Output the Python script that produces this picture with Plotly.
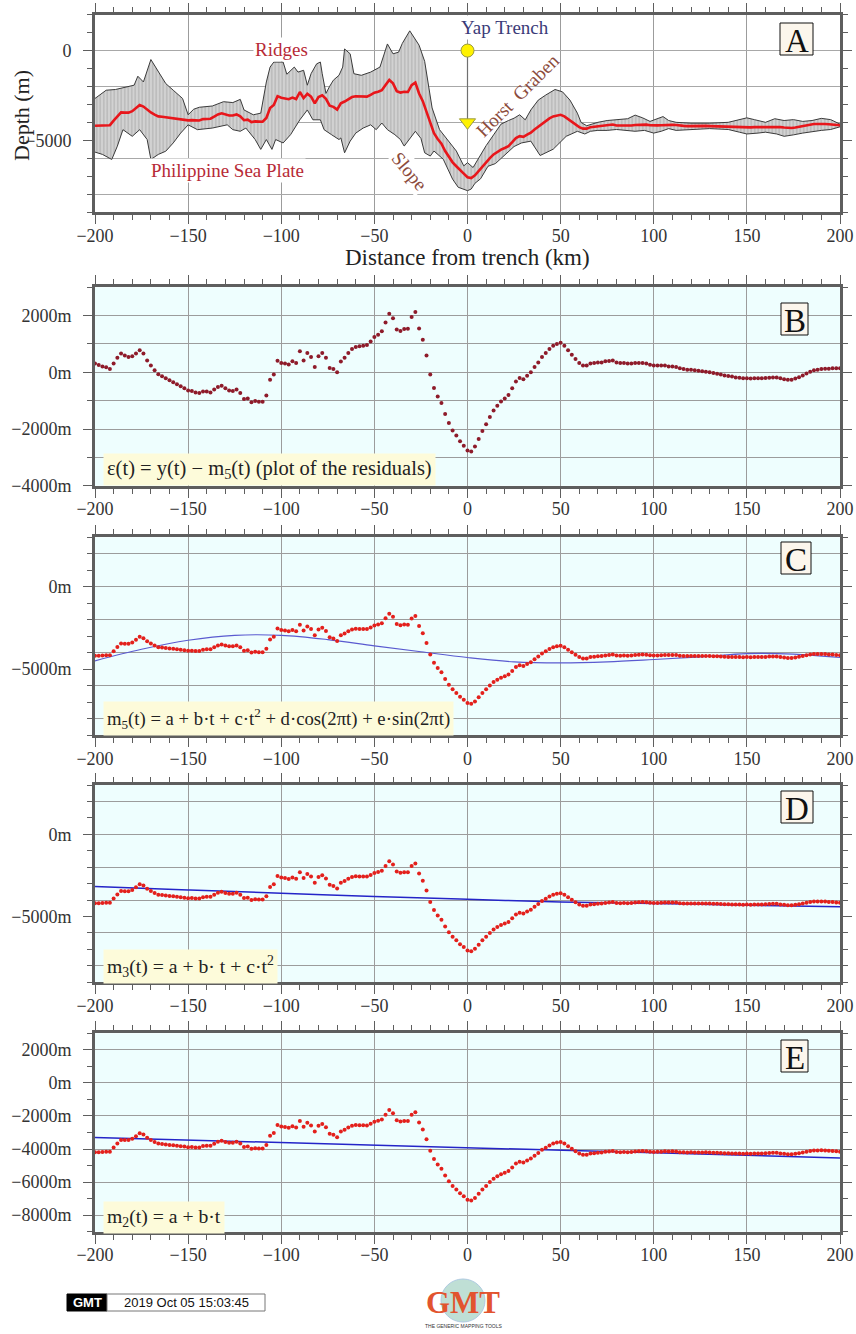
import plotly.graph_objects as go

# ---------------- data ----------------
distance_km = list(range(-200, 201, 2))

# observed depth profile y(t) (m), every 2 km from -200 to 200
depth_m = [
    -4190, -4190, -4180, -4160, -4160, -3910, -3660, -3450, -3460, -3460,   # -200..-182
    -3380, -3220, -3040, -3120, -3310, -3450, -3570, -3670, -3690, -3720,   # -180..-162
    -3750, -3770, -3800, -3830, -3850, -3890, -3880, -3900, -3900, -3820,   # -160..-142
    -3800, -3800, -3680, -3560, -3500, -3570, -3620, -3620, -3560, -3670,   # -140..-122
    -3880, -3850, -3990, -3950, -3970, -3970, -3760, -3200, -3030, -2540,   # -120..-102
    -2630, -2660, -2710, -2620, -2700, -2310, -2650, -2410, -2570, -2940,   # -100..-82
    -2590, -2490, -2690, -3070, -3140, -3290, -2940, -2840, -2700, -2590,   # -80..-62
    -2550, -2560, -2560, -2570, -2470, -2350, -2290, -2210, -1920, -1640,   # -60..-42
    -1830, -2260, -2340, -2300, -2310, -1930, -1780, -2390, -2820, -3410,   # -40..-22
    -4110, -4610, -4930, -5190, -5600, -5950, -6230, -6450, -6680, -6860,   # -20..-2
    -7060, -7110, -6960, -6710, -6450, -6230, -6000, -5790, -5640, -5520,   # 0..18
    -5430, -5330, -5110, -4880, -4770, -4810, -4690, -4580, -4400, -4240,   # 20..38
    -4050, -3920, -3780, -3670, -3610, -3580, -3670, -3830, -3980, -4130,   # 40..58
    -4270, -4350, -4350, -4270, -4250, -4220, -4210, -4170, -4150, -4120,   # 60..78
    -4180, -4190, -4180, -4190, -4180, -4150, -4130, -4120, -4130, -4160,   # 80..98
    -4180, -4170, -4160, -4140, -4150, -4140, -4150, -4190, -4200, -4210,   # 100..118
    -4200, -4210, -4210, -4210, -4200, -4210, -4220, -4220, -4240, -4250,   # 120..138
    -4260, -4270, -4270, -4270, -4280, -4270, -4280, -4270, -4270, -4270,   # 140..158
    -4260, -4240, -4230, -4230, -4270, -4290, -4320, -4320, -4290, -4250,   # 160..178
    -4210, -4160, -4120, -4090, -4090, -4080, -4090, -4110, -4120, -4140,   # 180..198
    -4160,                                                                  # 200
]

# residuals eps(t) = y(t) - m5(t) (m)
residual_m = [
    310, 260, 210, 180, 120, 310, 510, 660, 590, 540,                       # -200..-182
    570, 660, 780, 660, 420, 240, 70, -70, -140, -210,                      # -180..-162
    -280, -350, -420, -490, -560, -640, -660, -710, -730, -680,             # -160..-142
    -680, -710, -610, -520, -470, -560, -640, -660, -610, -730,             # -140..-122
    -940, -920, -1060, -1010, -1040, -1040, -820, -260, -80, 410,           # -120..-102
    330, 310, 280, 390, 330, 740, 420, 680, 540, 190,                       # -100..-82
    570, 680, 510, 150, 120, 0, 380, 510, 680, 820,                         # -80..-62
    890, 920, 940, 960, 1090, 1250, 1330, 1450, 1760, 2070,                 # -60..-42
    1910, 1510, 1460, 1530, 1540, 1950, 2130, 1550, 1150, 590,              # -40..-22
    -80, -550, -850, -1080, -1470, -1790, -2050, -2230, -2430, -2590,       # -20..-2
    -2760, -2790, -2620, -2350, -2070, -1830, -1580, -1350, -1180, -1030,   # 0..18
    -920, -800, -560, -320, -200, -240, -120, 0, 190, 350,                  # 20..38
    540, 680, 820, 940, 1000, 1040, 940, 780, 620, 470,                     # 40..58
    330, 240, 240, 310, 330, 350, 350, 390, 400, 420,                       # 60..78
    350, 330, 330, 310, 310, 330, 330, 330, 310, 270,                       # 80..98
    240, 240, 240, 240, 210, 210, 190, 140, 120, 90,                        # 100..118
    90, 70, 60, 40, 20, 0, -20, -50, -80, -110,                             # 120..138
    -130, -150, -180, -190, -210, -210, -220, -210, -210, -210,             # 140..158
    -200, -190, -180, -180, -210, -240, -260, -260, -220, -170,             # 160..178
    -110, -40, 20, 70, 90, 120, 130, 130, 140, 140,                         # 180..198
    140,                                                                    # 200
]

# fitted models (read at control points)
m5_km = [-200, -175, -150, -125, -100, -75, -50, -25, 0, 25, 50, 75, 100, 125, 150, 175, 200]
m5_m = [-4500, -3800, -3250, -2950, -2950, -3210, -3590, -3950, -4300, -4560, -4620,
        -4560, -4420, -4260, -4060, -4090, -4300]
m3_km = [-200, -150, -100, -50, 0, 50, 100, 150, 200]
m3_m = [-3180, -3380, -3580, -3780, -3950, -4110, -4210, -4310, -4410]
m2_km = [-200, 200]
m2_m = [-3300, -4540]

# envelope of the stacked profiles (panel A)
upper_km = [-200, -194, -189, -184, -179, -177, -174, -170, -166, -162, -158, -153, -150, -147, -144,
            -137, -131, -126, -122, -120, -115, -111, -108, -106, -104, -99, -97, -93, -91, -88,
            -86, -84, -81, -79, -78, -76, -74, -72, -69, -67, -66, -63, -61, -57, -52,
            -47, -43, -40, -37, -35, -31, -26, -23, -21, -19, -15, -11, -6, -2, 0,
            3, 10, 14, 18, 22, 25, 28, 31, 34, 38, 42, 47, 51, 55, 59,
            61, 64, 70, 75, 80, 86, 90, 94, 98, 102, 105, 108, 112, 120, 130,
            140, 146, 150, 154, 160, 165, 170, 175, 180, 185, 190, 195, 200]
upper_m = [-2670, -2210, -2170, -2060, -1930, -1430, -1750, -500, -1200, -1840, -2210, -2670, -3580, -3270, -3160,
           -3090, -2850, -2900, -2720, -3310, -3580, -3490, -1750, -920, -640, -640, -1320, -920, -1200, -1100,
           -1930, -1290, -740, -640, -1290, -2390, -1990, -1650, -1380, -920, 90, -180, -1290, -1380, -1200,
           -920, 370, -180, -90, 400, 1100, 300, -600, -1840, -3200, -4410, -4960, -5600, -6430, -6250,
           -6520, -5300, -4700, -4100, -3900, -3770, -3580, -3860, -3310, -2760, -2480, -2170, -2300, -2760, -3490,
           -4010, -4190, -4000, -3900, -3850, -3800, -3600, -3750, -3950, -3800, -3680, -3900, -4000, -4050, -4050,
           -4000, -3850, -3750, -3850, -4000, -3800, -3900, -3850, -3950, -3900, -3780, -3850, -4100]
lower_km = [-200, -196, -191, -188, -185, -180, -176, -172, -170, -166, -162, -158, -154, -150, -145,
            -137, -129, -126, -122, -119, -114, -111, -108, -105, -103, -99, -95, -90, -86, -83,
            -79, -77, -73, -69, -68, -66, -63, -60, -56, -52, -49, -46, -43, -39, -36,
            -34, -31, -28, -25, -23, -20, -18, -13, -8, -5, 0, 2, 4, 7, 11,
            15, 19, 25, 29, 34, 39, 46, 53, 59, 63, 66, 70, 75, 80, 86,
            90, 95, 100, 104, 108, 112, 120, 130, 140, 146, 150, 156, 160, 166, 170,
            175, 180, 186, 190, 195, 200]
lower_m = [-5660, -5790, -6070, -5330, -4410, -4780, -4410, -4960, -6070, -5790, -5610, -5150, -4600, -4140, -4410,
           -4320, -4140, -4410, -4500, -4320, -4960, -5510, -4960, -5510, -4960, -5150, -4690, -3860, -3310, -3860,
           -3860, -4410, -4690, -4960, -4870, -5700, -5050, -4600, -4320, -4140, -4410, -4040, -4410, -4690, -4960,
           -5330, -4900, -4500, -4900, -5700, -5880, -5600, -6060, -7170, -7620, -7810, -7720, -7400, -7150, -6450,
           -6300, -5900, -5350, -5150, -5050, -5850, -5500, -4780, -4500, -4650, -4500, -4450, -4450, -4400, -4450,
           -4500, -4450, -4600, -4500, -4350, -4450, -4400, -4350, -4400, -4550, -4650, -4600, -4550, -4650, -4780,
           -4700, -4600, -4500, -4450, -4400, -4250]

trench_km = [0, 0]
trench_m = [0, -4000]

x_ticks_km = [-200, -150, -100, -50, 0, 50, 100, 150, 200]
depth_ticks_m = [0, -5000]
depth_ticks_text = ["0", "−5000"]
depth_ticks_text_m = ["0m", "−5000m"]
panel_letters = ["A", "B", "C", "D", "E"]
equations = [
    "ε(t) = y(t) − m<sub>5</sub>(t) (plot of the residuals)",
    "m<sub>5</sub>(t) = a + b·t + c·t<sup>2</sup> + d·cos(2πt) + e·sin(2πt)",
    "m<sub>3</sub>(t) = a + b· t + c·t<sup>2</sup>",
    "m<sub>2</sub>(t) = a + b·t",
]

# ---------------- styling ----------------
W, H = 856, 1334
L, R = 95, 840
FONT = "Liberation Serif"
FRAME = "#5E5E5E"
GRID = "#9C9C9C"
BG = "#EEFEFE"
LABEL = "#333333"
panel_px = [(14.7, 212.0), (287.3, 485.7), (537.3, 735.0), (785.0, 982.3), (1033.3, 1231.7)]


def ydom(top, bot):
    return [1 - bot / H, 1 - top / H]


fig = go.Figure()

# Panel A
fig.add_trace(go.Scatter(
    x=upper_km + lower_km[::-1], y=upper_m + lower_m[::-1], fill="toself",
    fillcolor="#D2D2D2", mode="lines", line=dict(color="#3A3A3A", width=1),
    fillpattern=dict(shape="|", fgcolor="#6E6E6E", bgcolor="#D2D2D2", size=3.5, solidity=0.22),
    xaxis="x", yaxis="y", hoverinfo="skip"))
fig.add_trace(go.Scatter(x=distance_km, y=depth_m, mode="lines",
                         line=dict(color="#E8161B", width=2.6), xaxis="x", yaxis="y"))
fig.add_trace(go.Scatter(x=trench_km, y=trench_m, mode="lines",
                         line=dict(color="#707070", width=1.2), xaxis="x", yaxis="y"))
fig.add_trace(go.Scatter(x=trench_km[:1], y=trench_m[:1], mode="markers",
                         marker=dict(symbol="circle", size=13, color="#FFF200",
                                     line=dict(color="#9A9A40", width=1)), xaxis="x", yaxis="y"))
fig.add_trace(go.Scatter(x=trench_km[1:], y=trench_m[1:], mode="markers",
                         marker=dict(symbol="triangle-down", size=14, color="#FFF200",
                                     line=dict(color="#9A9A40", width=1)), xaxis="x", yaxis="y"))

# Panel B
fig.add_trace(go.Scatter(x=distance_km, y=residual_m, mode="markers",
                         marker=dict(size=4, color="#8E1B2A"), xaxis="x2", yaxis="y2"))
# Panel C
fig.add_trace(go.Scatter(x=m5_km, y=m5_m, mode="lines", line=dict(color="#5A5AD0", width=1.1, shape="spline"),
                         xaxis="x3", yaxis="y3"))
fig.add_trace(go.Scatter(x=distance_km, y=depth_m, mode="markers",
                         marker=dict(size=4, color="#E3201C"), xaxis="x3", yaxis="y3"))
# Panel D
fig.add_trace(go.Scatter(x=m3_km, y=m3_m, mode="lines", line=dict(color="#2424C8", width=1.5, shape="spline"),
                         xaxis="x4", yaxis="y4"))
fig.add_trace(go.Scatter(x=distance_km, y=depth_m, mode="markers",
                         marker=dict(size=4, color="#E3201C"), xaxis="x4", yaxis="y4"))
# Panel E
fig.add_trace(go.Scatter(x=m2_km, y=m2_m, mode="lines", line=dict(color="#2424C8", width=1.5),
                         xaxis="x5", yaxis="y5"))
fig.add_trace(go.Scatter(x=distance_km, y=depth_m, mode="markers",
                         marker=dict(size=4, color="#E3201C"), xaxis="x5", yaxis="y5"))

# dummy traces for grid-only overlay axes
for ya, xa in (("y6", "x"), ("y7", "x3"), ("y8", "x4")):
    fig.add_trace(go.Scatter(x=[None], y=[None], xaxis=xa, yaxis=ya, hoverinfo="skip"))

tickfont = dict(family=FONT, size=18, color=LABEL)
common = dict(showline=True, linewidth=3, linecolor=FRAME, mirror="ticks", ticks="outside",
              ticklen=9, tickwidth=1, tickcolor=FRAME, zeroline=False, fixedrange=True,
              tickfont=tickfont, automargin=False)

layout_axes = {}
yranges = [[-9000, 2000], [-4000, 3000], [-9000, 3000], [-9000, 3000], [-9000, 3000]]
for i, (top, bot) in enumerate(panel_px):
    n = "" if i == 0 else str(i + 1)
    layout_axes["xaxis" + n] = dict(
        common, domain=[L / W, R / W], range=[-200, 200], anchor="y" + n,
        tickmode="array", tickvals=x_ticks_km, showgrid=True, gridcolor=GRID, gridwidth=1,
        minor=dict(dtick=10, tick0=0, ticklen=5, ticks="outside", tickcolor=FRAME, showgrid=False),
        ticklabelstandoff=-4)
    ya = dict(common, domain=ydom(top, bot), range=yranges[i], anchor="x" + n, ticklabelstandoff=8)
    if i == 0:
        ya.update(tickmode="array", tickvals=depth_ticks_m, ticktext=depth_ticks_text, showgrid=False,
                  minor=dict(dtick=1000, tick0=0, ticklen=5, ticks="outside", tickcolor=FRAME, showgrid=False))
    elif i == 1:
        ya.update(dtick=2000, tick0=0, ticksuffix="m", showgrid=True, gridcolor=GRID,
                  minor=dict(dtick=1000, tick0=0, ticklen=5, ticks="outside", tickcolor=FRAME,
                             showgrid=True, gridcolor=GRID, gridwidth=1))
    elif i in (2, 3):
        ya.update(tickmode="array", tickvals=depth_ticks_m, ticktext=depth_ticks_text_m, showgrid=False,
                  minor=dict(dtick=1000, tick0=0, ticklen=5, ticks="outside", tickcolor=FRAME, showgrid=False))
    else:
        ya.update(dtick=2000, tick0=0, ticksuffix="m", showgrid=True, gridcolor=GRID,
                  minor=dict(dtick=1000, tick0=0, ticklen=5, ticks="outside", tickcolor=FRAME, showgrid=False))
    layout_axes["yaxis" + n] = ya

for name, base, xa, rng in (("yaxis6", "y", "x", [-9000, 2000]), ("yaxis7", "y3", "x3", [-9000, 3000]),
                            ("yaxis8", "y4", "x4", [-9000, 3000])):
    layout_axes[name] = dict(overlaying=base, anchor=xa, range=rng, dtick=2000, tick0=0,
                             showgrid=True, gridcolor="#A8A8A8" if base == "y" else GRID, gridwidth=1,
                             showticklabels=False, ticks="", showline=False, zeroline=False,
                             fixedrange=True, automargin=False)

shapes = []
annotations = []

# white background for panel A
shapes.append(dict(type="rect", xref="x domain", yref="y domain", x0=0, x1=1, y0=0, y1=1,
                   fillcolor="white", line=dict(width=0), layer="below"))

# panel letter boxes
boxes = [(780, 813, 23, 55), (781, 808, 303, 335), (781, 811, 542, 574), (781, 813, 791, 823), (781, 808, 1040, 1072)]
for letter, (x0, x1, y0, y1) in zip(panel_letters, boxes):
    shapes.append(dict(type="rect", xref="paper", yref="paper", x0=x0 / W, x1=x1 / W,
                       y0=1 - y1 / H, y1=1 - y0 / H, fillcolor="#FCF6EC",
                       line=dict(color="#111111", width=1), layer="above"))
    annotations.append(dict(text=letter, xref="paper", yref="paper", x=(x0 + x1) / 2 / W,
                            y=1 - ((y0 + y1) / 2 + 2) / H, showarrow=False, xanchor="center",
                            yanchor="middle", font=dict(family=FONT, size=33, color="#111111")))

# equation boxes
eq_y = [470, 718, 966, 1217]
eq_size = [20.5, 18.7, 19.7, 19.7]
for txt, yc, fs in zip(equations, eq_y, eq_size):
    annotations.append(dict(text=txt, xref="paper", yref="paper", x=103 / W, y=1 - yc / H,
                            xanchor="left", yanchor="middle", showarrow=False, bgcolor="#FDFBDA",
                            borderpad=3, font=dict(family=FONT, size=fs, color="#222222")))

# panel A labels
lab = dict(xref="x", yref="y", showarrow=False, xanchor="center", yanchor="middle")
annotations += [
    dict(lab, text="Ridges", x=-100, y=40, bgcolor="white", font=dict(family=FONT, size=19, color="#B72A37")),
    dict(lab, text="Philippine Sea Plate", x=-129, y=-6710, bgcolor="white",
         font=dict(family=FONT, size=19, color="#B72A37")),
    dict(lab, text="Slope", x=-31, y=-6720, textangle=50, bgcolor="white",
         font=dict(family=FONT, size=19, color="#8C4B3C")),
    dict(lab, text="Horst  Graben", x=27, y=-2530, textangle=-45,
         font=dict(family=FONT, size=19, color="#8C4B3C")),
    dict(lab, text="Yap Trench", x=20, y=1290, bgcolor="white", font=dict(family=FONT, size=19, color="#3B3B78")),
]

# axis titles for panel A
annotations.append(dict(text="Distance from trench (km)", xref="paper", yref="paper", x=467.5 / W,
                        y=1 - 257 / H, xanchor="center", yanchor="middle", showarrow=False,
                        font=dict(family=FONT, size=23, color="#222222")))
annotations.append(dict(text="Depth (m)", xref="paper", yref="paper", x=22 / W, y=1 - 116 / H,
                        xanchor="center", yanchor="middle", textangle=-90, showarrow=False,
                        font=dict(family=FONT, size=22, color="#222222")))

# GMT time stamp
shapes.append(dict(type="rect", xref="paper", yref="paper", x0=67 / W, x1=107 / W, y0=1 - 1311 / H,
                   y1=1 - 1294 / H, fillcolor="black", line=dict(color="black", width=1), layer="below"))
shapes.append(dict(type="rect", xref="paper", yref="paper", x0=107 / W, x1=265 / W, y0=1 - 1311 / H,
                   y1=1 - 1294 / H, fillcolor="white", line=dict(color="#777777", width=1), layer="below"))
annotations.append(dict(text="<b>GMT</b>", xref="paper", yref="paper", x=87 / W, y=1 - 1302.5 / H,
                        xanchor="center", yanchor="middle", showarrow=False,
                        font=dict(family="Liberation Sans", size=13, color="white")))
annotations.append(dict(text="2019 Oct 05 15:03:45", xref="paper", yref="paper", x=186 / W, y=1 - 1302.5 / H,
                        xanchor="center", yanchor="middle", showarrow=False,
                        font=dict(family="Liberation Sans", size=13, color="#111111")))
# GMT logo
shapes.append(dict(type="circle", xref="paper", yref="paper", x0=441 / W, x1=485 / W, y0=1 - 1322 / H,
                   y1=1 - 1279 / H, fillcolor="#8CC6B4", opacity=0.55, line=dict(color="#6C9FC8", width=1),
                   layer="below"))
annotations.append(dict(text="<b>GMT</b>", xref="paper", yref="paper", x=463 / W, y=1 - 1302 / H,
                        xanchor="center", yanchor="middle", showarrow=False,
                        font=dict(family=FONT, size=31, color="#E2542F")))
annotations.append(dict(text="THE GENERIC MAPPING TOOLS", xref="paper", yref="paper", x=463 / W,
                        y=1 - 1326 / H, xanchor="center", yanchor="middle", showarrow=False,
                        font=dict(family="Liberation Sans", size=5, color="#333333")))

fig.update_layout(
    width=W, height=H, margin=dict(l=0, r=0, t=0, b=0, autoexpand=False), paper_bgcolor="white",
    plot_bgcolor=BG, showlegend=False, shapes=shapes, annotations=annotations, **layout_axes)

fig.write_html("out.html")
